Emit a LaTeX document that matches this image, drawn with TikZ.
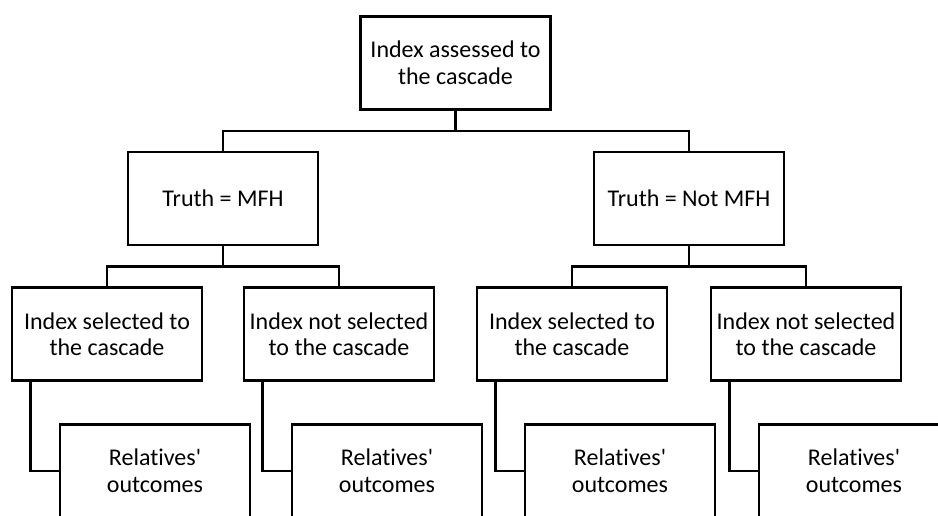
\documentclass[tikz,border=0pt]{standalone}
\usepackage{fontspec}
\setmainfont[Ligatures=NoCommon]{Carlito}
\usepackage{tikz}
\usetikzlibrary{positioning, calc}

\begin{document}
\begin{tikzpicture}[
  box/.style={
    rectangle, draw=black, fill=white, line width=2.6pt,
    minimum width=190pt, minimum height=93pt, inner sep=0pt,
    align=center, font=\fontsize{24}{26.5}\selectfont
  },
  link/.style={
    line width=2.6pt, draw=black
  }
]

\useasboundingbox (0,0) rectangle (938pt,-515pt);
\clip (0,0) rectangle (938pt,-515pt);

% Level 1: index
\node[box] (index) at (455.5pt,-63pt) {Index assessed to\\the cascade};

% Level 2: truth
\node[box, below=40pt of index, xshift=-232.5pt] (mfh) {Truth = MFH};
\node[box, below=40pt of index, xshift=233.5pt] (notmfh) {Truth = Not MFH};

% Level 3: selection
\node[box, below=40pt of mfh, xshift=-116pt] (sela) {Index selected to\\the cascade};
\node[box, below=40pt of mfh, xshift=116pt] (nsela) {Index not selected\\to the cascade};
\node[box, below=40pt of notmfh, xshift=-117pt] (selb) {Index selected to\\the cascade};
\node[box, below=40pt of notmfh, xshift=117pt] (nselb) {Index not selected\\to the cascade};

% Level 4: relatives
\node[box, below=41pt of sela, xshift=48pt] (rela) {Relatives\textquotesingle\\outcomes};
\node[box, below=41pt of nsela, xshift=48pt] (nrela) {Relatives\textquotesingle\\outcomes};
\node[box, below=41pt of selb, xshift=48pt] (relb) {Relatives\textquotesingle\\outcomes};
\node[box, below=41pt of nselb, xshift=48pt] (nrelb) {Relatives\textquotesingle\\outcomes};

% Split points
\coordinate (split0) at ($(index.south)!0.5!(index.south |- mfh.north)$);
\coordinate (split1) at ($(mfh.south)!0.5!(mfh.south |- sela.north)$);
\coordinate (split2) at ($(notmfh.south)!0.5!(notmfh.south |- selb.north)$);

% Tree connections
\draw[link] (index.south) -- (split0);
\draw[link] (mfh.north) |- (split0) -| (notmfh.north);
\draw[link] (mfh.south) -- (split1);
\draw[link] (sela.north) |- (split1) -| (nsela.north);
\draw[link] (notmfh.south) -- (split2);
\draw[link] (selb.north) |- (split2) -| (nselb.north);

% Relatives connections
\draw[link] ($(sela.south west)+(20pt,0)$) |- (rela.west);
\draw[link] ($(nsela.south west)+(20pt,0)$) |- (nrela.west);
\draw[link] ($(selb.south west)+(20pt,0)$) |- (relb.west);
\draw[link] ($(nselb.south west)+(20pt,0)$) |- (nrelb.west);

\end{tikzpicture}
\end{document}
